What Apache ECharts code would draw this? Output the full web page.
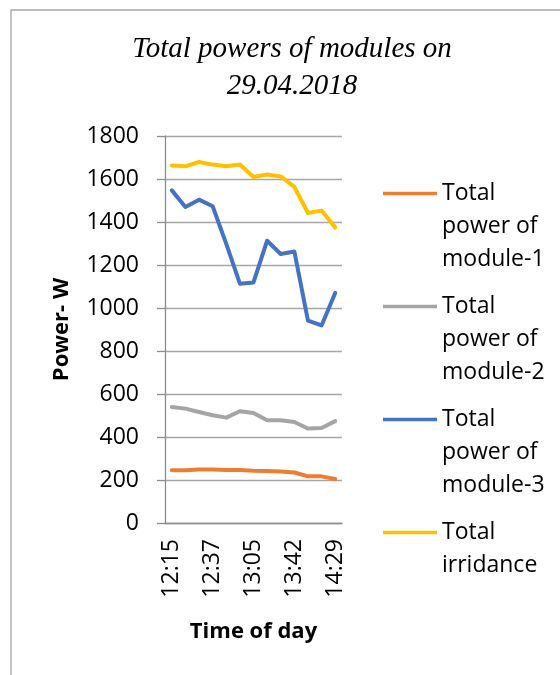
<!DOCTYPE html>
<html>
<head>
<meta charset="utf-8">
<title>Total powers of modules</title>
<script src="https://cdn.jsdelivr.net/npm/echarts@6/dist/echarts.min.js"></script>
<style>
  html, body { margin: 0; padding: 0; background: #fff; }
  .chart { width: 560px; height: 675px; }
</style>
</head>
<body>
<div class="chart"></div>
<script>
// 数据
var times = ['12:15', '12:22', '12:30', '12:37', '12:46', '12:55', '13:05', '13:17', '13:30', '13:42', '13:58', '14:13', '14:29'];
var module1 = [245, 245, 249, 249, 247, 247, 243, 242, 240, 235, 217, 217, 205];
var module2 = [540, 532, 516, 501, 490, 520, 512, 478, 478, 470, 439, 442, 474];
var module3 = [1547, 1470, 1504, 1473, 1298, 1113, 1119, 1313, 1251, 1263, 941, 919, 1070];
var irradiance = [1663, 1659, 1679, 1667, 1659, 1667, 1609, 1621, 1612, 1563, 1442, 1453, 1375];
var seriesNames = ['Total\npower of\nmodule-1', 'Total\npower of\nmodule-2', 'Total\npower of\nmodule-3', 'Total\nirridance'];
var seriesColors = ['#ED7D31', '#A5A5A5', '#4472C4', '#FFC000'];

(function() {
  var myChart = echarts.init(document.querySelector('.chart'));
  var font = 'Open Sans';
  // 图例线条放在第一行文字的高度
  var legendIcon = 'path://M0,0h0.01v0.01h-0.01z M0,14.75h54v3.5h-54z M0,98.99h0.01v0.01h-0.01z';
  var values = [module1, module2, module3, irradiance];

  var option = {
    color: seriesColors,
    title: {
      text: 'Total powers of modules on\n29.04.2018',
      left: 292,
      top: 31,
      padding: 0,
      textAlign: 'center',
      textStyle: {
        fontFamily: 'Liberation Serif',
        fontStyle: 'italic',
        fontWeight: 'normal',
        fontSize: 29,
        lineHeight: 37,
        color: '#000'
      }
    },
    // 外框
    graphic: [{
      type: 'rect',
      shape: { x: 11, y: 10, width: 600, height: 700 },
      style: { fill: 'none', stroke: '#a6a6a6', lineWidth: 1.3 },
      silent: true
    }],
    legend: {
      orient: 'vertical',
      left: 383,
      top: 177,
      padding: 0,
      itemGap: 14,
      itemWidth: 54,
      itemHeight: 99,
      icon: legendIcon,
      itemStyle: { borderWidth: 0 },
      // 两行的图例补一个空行，保持第一行和线条对齐
      formatter: function(name) {
        return name.split('\n').length < 3 ? name + '\n ' : name;
      },
      textStyle: {
        fontFamily: font,
        fontSize: 23,
        lineHeight: 33,
        color: '#000'
      },
      data: seriesNames
    },
    grid: {
      left: 165,
      right: 218,
      top: 136,
      bottom: 152
    },
    xAxis: {
      type: 'category',
      data: times,
      boundaryGap: true,
      name: 'Time of day',
      nameLocation: 'middle',
      nameGap: 98,
      nameTextStyle: {
        fontFamily: font,
        fontSize: 22,
        fontWeight: 'bold',
        color: '#000'
      },
      axisLine: { lineStyle: { color: '#8c8c8c', width: 1.3 } },
      axisTick: { interval: 0, length: 9, lineStyle: { color: '#8c8c8c', width: 1.3 } },
      axisLabel: {
        interval: 2,
        rotate: 90,
        margin: 16,
        fontFamily: font,
        fontSize: 23,
        color: '#000'
      }
    },
    yAxis: {
      type: 'value',
      min: 0,
      max: 1800,
      interval: 200,
      name: 'Power- W',
      nameLocation: 'middle',
      nameGap: 92,
      nameTextStyle: {
        fontFamily: font,
        fontSize: 22,
        fontWeight: 'bold',
        color: '#000'
      },
      axisLine: { show: true, lineStyle: { color: '#8c8c8c', width: 1.3 } },
      axisTick: { show: true, length: 8, lineStyle: { color: '#8c8c8c', width: 1.3 } },
      axisLabel: {
        margin: 26,
        fontFamily: font,
        fontSize: 23,
        color: '#000',
        formatter: function(v) { return String(v); }
      },
      splitLine: { lineStyle: { color: '#a6a6a6', width: 1.3 } }
    },
    series: values.map(function(v, i) {
      return {
        name: seriesNames[i],
        type: 'line',
        data: v,
        symbol: 'none',
        lineStyle: { width: 4, color: seriesColors[i], join: 'round', cap: 'round' }
      };
    })
  };
  myChart.setOption(option);
  window.addEventListener('resize', function() {
    myChart.resize();
  });
})();
</script>
</body>
</html>
